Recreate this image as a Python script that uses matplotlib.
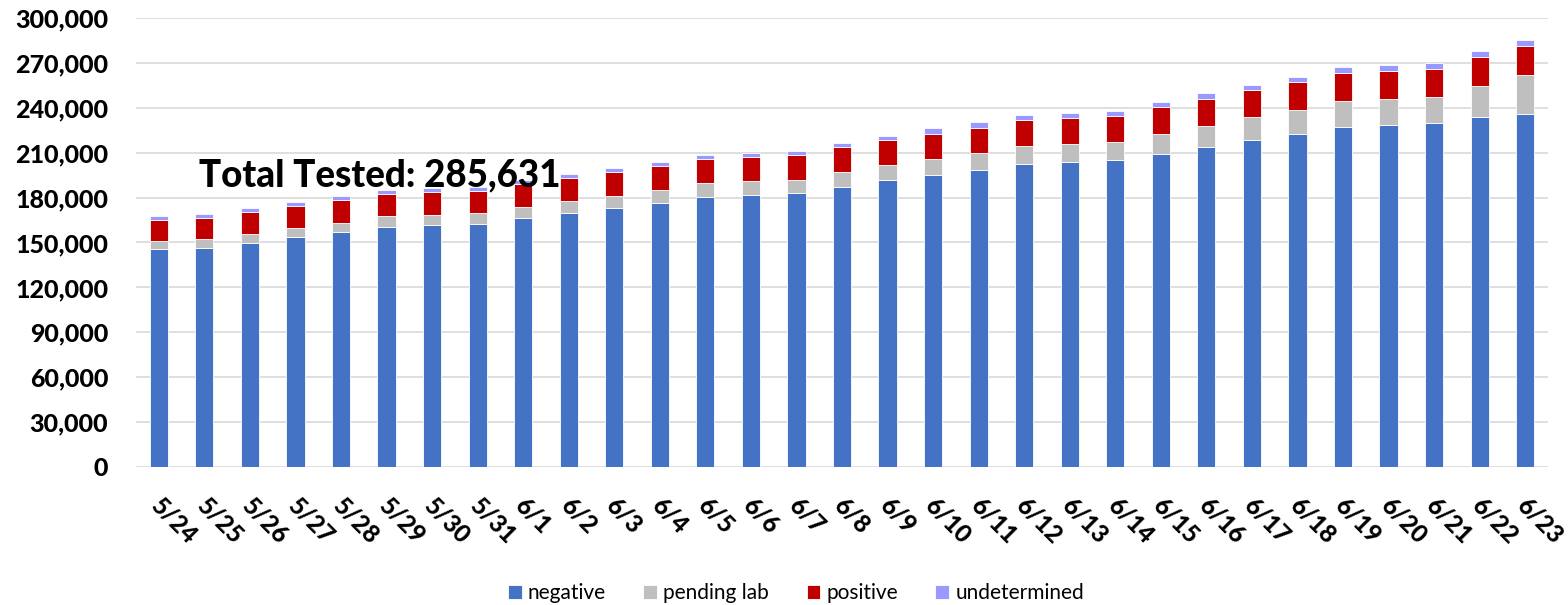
import matplotlib
matplotlib.use('Agg')
import matplotlib.pyplot as plt
import matplotlib.transforms as mtransforms
import numpy as np

# ..data (thousands of tests)..
dates = ['5/24', '5/25', '5/26', '5/27', '5/28', '5/29', '5/30', '5/31',
         '6/1', '6/2', '6/3', '6/4', '6/5', '6/6', '6/7', '6/8', '6/9',
         '6/10', '6/11', '6/12', '6/13', '6/14', '6/15', '6/16', '6/17',
         '6/18', '6/19', '6/20', '6/21', '6/22', '6/23']

negative = [145.9, 146.5, 149.9, 153.7, 157.0, 160.4, 161.7, 162.4, 166.4,
            169.9, 173.3, 176.6, 180.6, 181.9, 183.3, 187.3, 191.6, 195.3,
            198.7, 202.6, 204.0, 204.9, 209.3, 214.0, 218.7, 222.7, 227.2,
            228.7, 229.6, 233.6, 236.1]
pending_lab = [5.1, 5.6, 5.8, 6.0, 6.2, 7.1, 6.9, 7.1, 7.1, 7.6, 8.0, 8.3,
               8.9, 9.0, 8.7, 9.6, 10.2, 10.5, 10.9, 11.7, 11.8, 12.0, 13.2,
               14.0, 14.9, 15.8, 17.1, 17.0, 17.4, 21.0, 25.6]
positive = [14.2, 14.5, 14.9, 14.9, 15.2, 15.1, 15.1, 15.1, 15.8, 15.8, 16.0,
            16.2, 16.3, 16.4, 16.5, 16.7, 16.7, 16.9, 17.1, 17.5, 17.6, 17.4,
            17.8, 18.1, 18.5, 18.5, 19.2, 19.1, 19.1, 19.5, 19.6]
undetermined = [2.5, 2.4, 2.5, 2.5, 2.5, 2.5, 2.7, 2.7, 2.5, 2.7, 2.7, 2.7,
                2.9, 2.5, 2.8, 2.9, 2.9, 3.6, 3.6, 3.6, 3.3, 3.8, 3.8, 3.6,
                3.3, 3.8, 3.6, 3.8, 4.0, 3.6, 3.8]

series = [('negative', negative, '#4472C4'),
          ('pending lab', pending_lab, '#BFBFBF'),
          ('positive', positive, '#C00000'),
          ('undetermined', undetermined, '#9999FF')]

plt.rcParams['font.family'] = ['Lato', 'DejaVu Sans']

fig = plt.figure(figsize=(15.68, 6.05), dpi=100)
ax = fig.add_axes([136 / 1568, 1 - 467 / 605, (1548 - 136) / 1568, 449 / 605])

x = np.arange(len(dates))
bottom = np.zeros(len(dates))
for name, vals, color in series:
    v = np.array(vals) * 1000
    ax.bar(x, v, 0.4, bottom=bottom, color=color, label=name,
           edgecolor='white', linewidth=0.6, zorder=3)
    bottom += v

ax.set_xlim(-0.5, len(dates) - 0.5)
ax.set_ylim(0, 300000)
ax.set_yticks(np.arange(0, 300001, 30000))
ax.yaxis.set_major_formatter(matplotlib.ticker.FuncFormatter(lambda v, p: f'{int(v):,}'))
ax.grid(axis='y', color='#D9D9D9', linewidth=1.2, zorder=0)
for s in ax.spines.values():
    s.set_visible(False)

ax.tick_params(axis='y', length=0, pad=20, labelsize=18)
ax.tick_params(axis='x', length=0, pad=25, labelsize=17.5)
for lbl in ax.get_yticklabels():
    lbl.set_fontweight('black')
ax.set_xticks(x)
ax.set_xticklabels(dates, fontweight='black', rotation=-45, ha='left',
                   va='center', rotation_mode='anchor')
# nudge the date labels a little to the left so the last one fits
shift = mtransforms.ScaledTranslation(-4 / 100, 0, fig.dpi_scale_trans)
for lbl in ax.get_xticklabels():
    lbl.set_transform(lbl.get_transform() + shift)

fig.text(199 / 1568, 1 - 186.7 / 605, 'Total Tested: 285,631', fontsize=26.5,
         fontweight='black', ha='left', va='baseline', zorder=1)

fig.legend(loc='center', bbox_to_anchor=(796 / 1568, 1 - 593 / 605), ncol=4,
           frameon=False, fontsize=15, handlelength=0.65, handleheight=0.65,
           handletextpad=0.3, columnspacing=1.8)

fig.savefig('out.png', dpi=100)
